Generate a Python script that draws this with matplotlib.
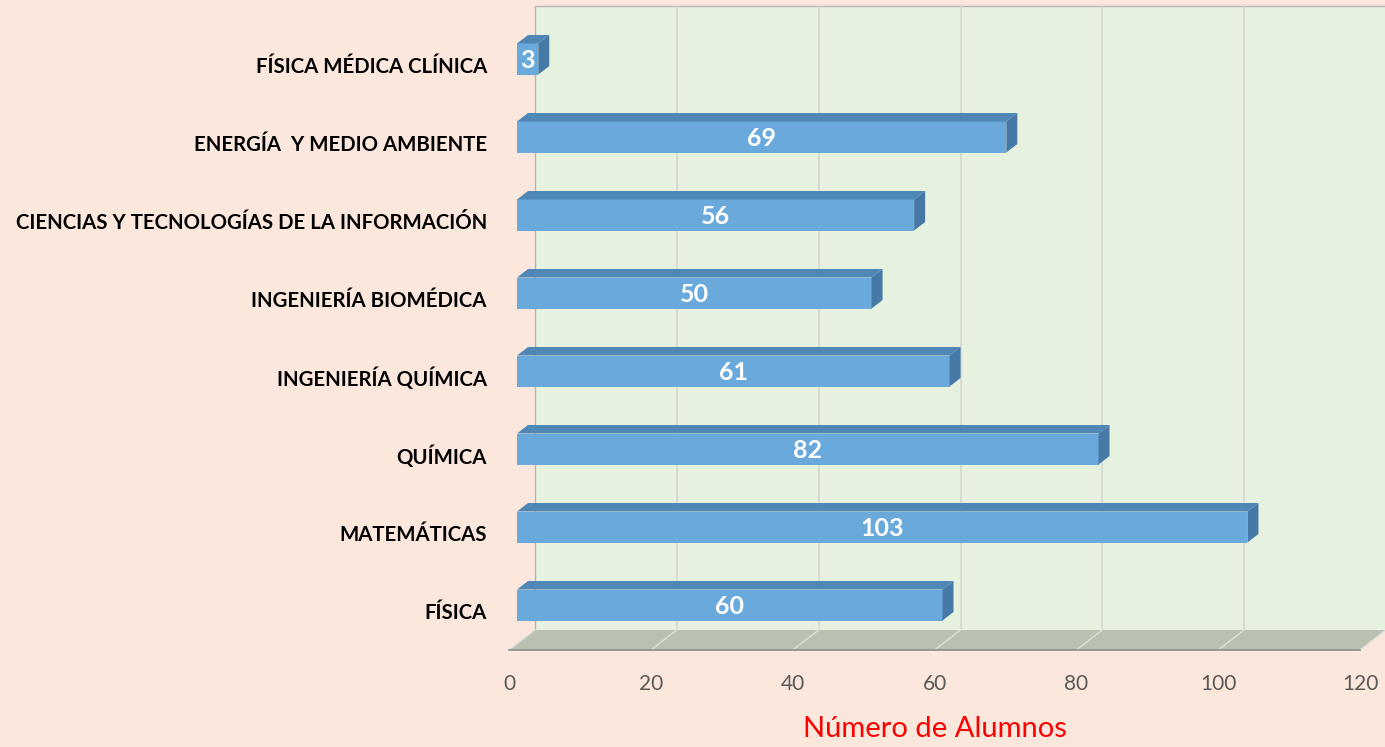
import matplotlib
matplotlib.use('Agg')
import matplotlib.pyplot as plt
from matplotlib.patches import Polygon, Rectangle

# datos
carreras = ['FÍSICA', 'MATEMÁTICAS', 'QUÍMICA', 'INGENIERÍA QUÍMICA',
            'INGENIERÍA BIOMÉDICA', 'CIENCIAS Y TECNOLOGÍAS DE LA INFORMACIÓN',
            'ENERGÍA  Y MEDIO AMBIENTE', 'FÍSICA MÉDICA CLÍNICA']
alumnos = [60, 103, 82, 61, 50, 56, 69, 3]
ticks_x = [0, 20, 40, 60, 80, 100, 120]

plt.rcParams['font.family'] = ['Lato', 'DejaVu Sans']

fondo = '#fbe7dc'
pared = '#e6f1df'
suelo = '#b9c1b1'
frente = '#6aa9dc'
arriba = '#4f87b7'
lado = '#4679a6'

fig = plt.figure(figsize=(13.85, 7.47), dpi=100, facecolor=fondo)
ax = fig.add_axes([509 / 1385, 97 / 747, 851 / 1385, 624 / 747])
ax.set_facecolor('none')
ax.set_xlim(0, 120)
ax.set_ylim(-0.5, 7.5)

# pixeles -> unidades de datos
px_x = 851 / 120
px_y = 624 / 8
fx, fy = 26 / px_x, 20 / px_y      # profundidad del suelo/pared
bx, by = 8 / px_x, 6 / px_y        # posicion del frente de las barras
dx, dy = 11 / px_x, 8.5 / px_y     # profundidad de las barras
alto = 31 / px_y

# pared del fondo
ax.add_patch(Rectangle((fx, -0.5 + fy), 140, 8, facecolor=pared,
                       edgecolor='none', clip_on=False, zorder=0))
ax.plot([fx, fx, 140], [-0.5 + fy, 7.5 + fy, 7.5 + fy], color='#b5b5b5',
        lw=1, clip_on=False, zorder=1)
for t in ticks_x[1:]:
    ax.plot([t + fx, t + fx], [-0.5 + fy, 7.5 + fy], color='#d3d8d0',
            lw=1.2, clip_on=False, zorder=1)

# suelo
ax.add_patch(Polygon([(0, -0.5), (120, -0.5), (120 + fx, -0.5 + fy),
                      (fx, -0.5 + fy)], closed=True, facecolor=suelo,
                     edgecolor='none', clip_on=False, zorder=2))
for t in ticks_x:
    ax.plot([t, t + fx], [-0.5, -0.5 + fy], color='#dde2dc', lw=1,
            clip_on=False, zorder=3)
ax.plot([0, 120], [-0.5, -0.5], color='#8c8c8c', lw=1.2, clip_on=False,
        zorder=3)

# barras 3D
y = list(range(len(carreras)))
ax.barh([i + by for i in y], alumnos, left=bx, height=alto, color=frente,
        edgecolor='none', zorder=5)
for i, v in zip(y, alumnos):
    yc = i + by
    ax.add_patch(Polygon([(bx, yc + alto / 2), (bx + v, yc + alto / 2),
                          (bx + v + dx, yc + alto / 2 + dy),
                          (bx + dx, yc + alto / 2 + dy)],
                         facecolor=arriba, edgecolor='none', zorder=5,
                         clip_on=False))
    ax.add_patch(Polygon([(bx + v, yc - alto / 2), (bx + v, yc + alto / 2),
                          (bx + v + dx, yc + alto / 2 + dy),
                          (bx + v + dx, yc - alto / 2 + dy)],
                         facecolor=lado, edgecolor='none', zorder=5,
                         clip_on=False))
    ax.text(bx + v / 2, yc - 0.02, str(v), ha='center', va='center',
            color='white', fontsize=18, fontweight='bold', zorder=6)

ax.set_yticks(y)
ax.set_yticklabels(carreras, fontsize=14.7, fontweight='bold', color='black')
ax.set_xticks(ticks_x)
ax.set_xticklabels([str(t) for t in ticks_x], fontsize=15, color='#595959')
ax.tick_params(axis='y', length=0, pad=16)
ax.tick_params(axis='x', length=0, pad=17)
for s in ax.spines.values():
    s.set_visible(False)

ax.set_xlabel('Número de Alumnos', fontsize=21, color='#ff0000', labelpad=16)

fig.savefig('out.png', dpi=100, facecolor=fondo)
